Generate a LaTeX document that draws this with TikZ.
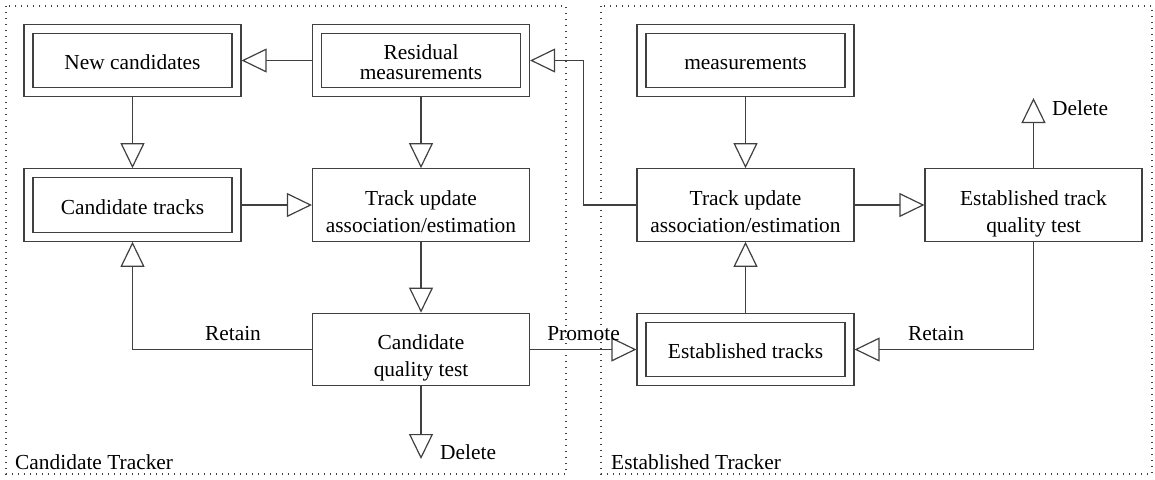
\documentclass[tikz,border=0pt]{standalone}
\usepackage{fontspec}
\setmainfont{Liberation Serif}
\usetikzlibrary{arrows.meta}
\definecolor{ln}{HTML}{404040}
\newcommand\bxt[2]{\raisebox{-#1}[\height][\depth]{\begin{tabular}{@{}c@{}}#2\end{tabular}}}
\begin{document}
\begin{tikzpicture}[x=1pt,y=-1pt,
  font=\fontsize{21.4}{27}\selectfont,
  box/.style={draw=ln, line width=1.2pt, minimum width=217pt, minimum height=72.5pt, inner sep=0pt, text=black},
  dbox/.style={box, path picture={\draw[ln, line width=1.2pt] ([shift={(9pt,-9pt)}]path picture bounding box.north west) rectangle ([shift={(-9pt,9pt)}]path picture bounding box.south east);}},
  arr/.style={draw=ln, line width=1.2pt, line join=miter, -{Triangle[open, length=25pt, width=24pt, line width=1.2pt]}},
  lab/.style={inner sep=0pt, text=black},
  region/.style={draw=ln, line width=1.2pt, dash pattern=on 1.2pt off 4.8pt}]
\useasboundingbox (0,0) rectangle (1155,479);
% regions
\draw[region] (6,6) rectangle (566,474);
\draw[region] (601,6) rectangle (1152,474);
\node[lab, anchor=west] (lcand) at (15,462) {Candidate Tracker};
\node[lab, anchor=west] (lest) at (611,462) {Established Tracker};
% nodes
\node[dbox] (newc) at (132.5,60.5) {\bxt{4pt}{New candidates}};
\node[dbox] (resid) at (421,60.5) {\fontsize{21.4}{20}\selectfont\bxt{5pt}{Residual\\measurements}};
\node[dbox] (candt) at (132.5,205) {\bxt{4pt}{Candidate tracks}};
\node[box] (updL) at (421,205) {\bxt{8.2pt}{Track update\\association/estimation}};
\node[box] (cqual) at (421,349.5) {\bxt{8.4pt}{Candidate\\quality test}};
\node[dbox] (meas) at (745.5,60.5) {\bxt{4pt}{measurements}};
\node[box] (updR) at (745.5,205) {\bxt{8.2pt}{Track update\\association/estimation}};
\node[dbox] (estt) at (745.5,349.5) {\bxt{4pt}{Established tracks}};
\node[box] (etest) at (1033.5,205) {\bxt{8.2pt}{Established track\\quality test}};
% free ends
\coordinate (delL) at (421,459);
\coordinate (delR) at (1033.5,98);
\node[lab, anchor=west] (delLt) at (440,452) {Delete};
\node[lab, anchor=west] (delRt) at (1052,108) {Delete};
% connectors
\draw[arr] (resid.west) -- (newc.east);
\draw[arr] (updR.west) -- ++(-53,0) |- (resid.east);
\draw[arr] (newc.south) -- (candt.north);
\draw[arr] (resid.south) -- (updL.north);
\draw[arr] (candt.east) -- (updL.west);
\draw[arr] (updL.south) -- (cqual.north);
\draw[arr] (cqual.west) -| (candt.south);
\draw[arr] (cqual.south) -- (delL);
\draw[arr] (cqual.east) -- (estt.west);
\draw[arr] (meas.south) -- (updR.north);
\draw[arr] (estt.north) -- (updR.south);
\draw[arr] (updR.east) -- (etest.west);
\draw[arr] (etest.north) -- (delR);
\draw[arr] (etest.south) |- (estt.east);
% labels
\node[lab] (retL) at (233,334) {Retain};
\node[lab] (prom) at (583.5,334) {Promote};
\node[lab] (retR) at (936,334) {Retain};
\end{tikzpicture}
\end{document}
